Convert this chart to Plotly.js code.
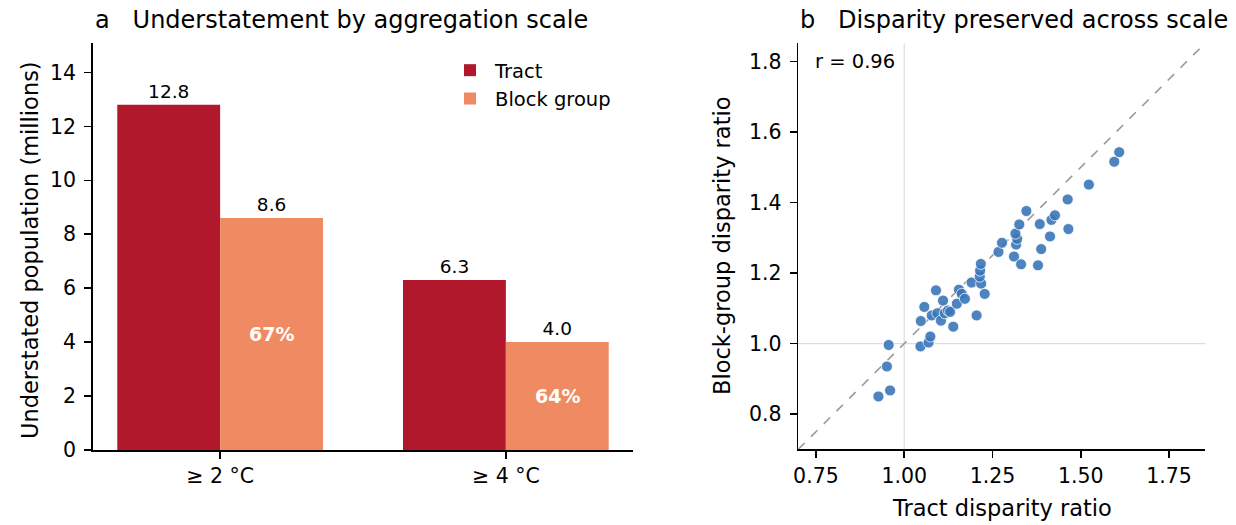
<!DOCTYPE html>
<html>
<head>
<meta charset="utf-8">
<script src="https://cdn.plot.ly/plotly-3.0.1.min.js"></script>
<style>html,body{margin:0;padding:0;background:#fff;}#chart{width:1236px;height:525px;}</style>
</head>
<body>
<div id="chart"></div>
<script>
// ---- Panel a data ----
const thresholds = ["\u2265 2 \u00b0C", "\u2265 4 \u00b0C"];
const tractPop = [12.8, 6.3];        // millions
const blockGroupPop = [8.6, 4.0];    // millions
const blockGroupShare = [67, 64];    // % of tract-level understatement

// ---- Panel b data ----
const tractRatio = [0.927, 0.960, 0.951, 0.956, 1.046, 1.069, 1.074, 1.047, 1.057, 1.090,
  1.078, 1.094, 1.104, 1.110, 1.115, 1.124, 1.130, 1.139, 1.149, 1.155,
  1.163, 1.172, 1.191, 1.205, 1.218, 1.228, 1.214, 1.215, 1.217, 1.267,
  1.277, 1.311, 1.317, 1.320, 1.315, 1.326, 1.331, 1.346, 1.379, 1.384,
  1.388, 1.413, 1.417, 1.427, 1.463, 1.465, 1.523, 1.595, 1.609];
const blockGroupRatio = [0.850, 0.867, 0.935, 0.996, 0.992, 1.003, 1.020, 1.064, 1.104, 1.151,
  1.080, 1.086, 1.065, 1.122, 1.086, 1.094, 1.090, 1.048, 1.113, 1.153,
  1.141, 1.127, 1.173, 1.080, 1.170, 1.141, 1.190, 1.207, 1.226, 1.260,
  1.286, 1.247, 1.281, 1.297, 1.312, 1.338, 1.225, 1.376, 1.222, 1.339,
  1.268, 1.304, 1.351, 1.364, 1.409, 1.325, 1.451, 1.516, 1.543];
const rValue = "0.96";

const FONT = "DejaVu Sans, Liberation Sans, sans-serif";
const W = 1236, H = 525;
const px = v => v / W;
const py = v => (H - v) / H;

const xIdx = thresholds.map((_, i) => i);
const barW = 0.36;

const traces = [
  {
    type: "bar", name: "Tract", x: xIdx, y: tractPop,
    marker: {color: "#b2182b", line: {width: 0}},
    text: tractPop.map(v => v.toFixed(1)), textposition: "outside",
    textfont: {family: FONT, size: 18.5, color: "#000"},
    cliponaxis: false, xaxis: "x", yaxis: "y", hoverinfo: "skip"
  },
  {
    type: "bar", name: "Block group", x: xIdx, y: blockGroupPop,
    marker: {color: "#ef8a62", line: {width: 0}},
    text: blockGroupPop.map(v => v.toFixed(1)), textposition: "outside",
    textfont: {family: FONT, size: 18.5, color: "#000"},
    cliponaxis: false, xaxis: "x", yaxis: "y", hoverinfo: "skip"
  },
  {
    type: "scatter", mode: "lines", x: [0.70, 1.852], y: [0.70, 1.852],
    line: {color: "#999999", width: 1.6, dash: "dash"},
    xaxis: "x2", yaxis: "y2", showlegend: false, hoverinfo: "skip"
  },
  {
    type: "scatter", mode: "markers", x: tractRatio, y: blockGroupRatio,
    marker: {color: "#3a76b8", size: 11, opacity: 0.9, line: {color: "#ffffff", width: 0.8}},
    xaxis: "x2", yaxis: "y2", showlegend: false
  }
];

const annotations = [
  {text: "a\u00a0\u00a0\u00a0Understatement by aggregation scale", xref: "paper", yref: "paper",
   x: px(92.7), y: py(20), xanchor: "left", yanchor: "middle", showarrow: false,
   font: {family: FONT, size: 24, color: "#000"}},
  {text: "b\u00a0\u00a0\u00a0Disparity preserved across scale", xref: "paper", yref: "paper",
   x: px(798.3), y: py(20), xanchor: "left", yanchor: "middle", showarrow: false,
   font: {family: FONT, size: 24, color: "#000"}},
  {text: "Understated population (millions)", xref: "paper", yref: "paper",
   x: px(30), y: py(250), xanchor: "center", yanchor: "middle", textangle: -90, showarrow: false,
   font: {family: FONT, size: 22.5, color: "#000"}},
  {text: "Block-group disparity ratio", xref: "paper", yref: "paper",
   x: px(722), y: py(246), xanchor: "center", yanchor: "middle", textangle: -90, showarrow: false,
   font: {family: FONT, size: 22.5, color: "#000"}},
  {text: "Tract disparity ratio", xref: "paper", yref: "paper",
   x: px(1001.5), y: py(508), xanchor: "center", yanchor: "middle", showarrow: false,
   font: {family: FONT, size: 22.5, color: "#000"}},
  {text: "r = " + rValue, xref: "paper", yref: "paper",
   x: px(813), y: py(61.7), xanchor: "left", yanchor: "middle", showarrow: false,
   font: {family: FONT, size: 19.5, color: "#000"}}
];
// percentage share labels inside block-group bars
blockGroupPop.forEach((v, i) => {
  annotations.push({
    text: "<b>" + blockGroupShare[i] + "%</b>",
    xref: "x", yref: "y", x: xIdx[i] + barW / 2, y: v / 2,
    xanchor: "center", yanchor: "middle", showarrow: false,
    font: {family: FONT, size: 19, color: "#ffffff"}
  });
});

const axisCommon = {
  showline: true, linecolor: "#000", linewidth: 1.6, mirror: false,
  ticks: "outside", ticklen: 7, tickwidth: 1.6, tickcolor: "#000",
  showgrid: false, zeroline: false, fixedrange: true,
  tickfont: {family: FONT, size: 20.5, color: "#000"}
};

const layout = {
  width: W, height: H,
  margin: {l: 0, r: 0, t: 0, b: 0},
  paper_bgcolor: "#fff", plot_bgcolor: "#fff",
  font: {family: FONT, color: "#000"},
  barmode: "group", bargap: 0.28, bargroupgap: 0,
  showlegend: true,
  legend: {x: px(445), y: py(51), xanchor: "left", yanchor: "top",
           font: {family: FONT, size: 19.5, color: "#000"}, bgcolor: "rgba(0,0,0,0)",
           tracegroupgap: 4, itemwidth: 40},
  xaxis: Object.assign({}, axisCommon, {
    domain: [px(92.7), px(633.3)], range: [-0.446, 1.446],
    tickmode: "array", tickvals: xIdx, ticktext: thresholds, anchor: "y"
  }),
  yaxis: Object.assign({}, axisCommon, {
    domain: [py(450), py(43.3)], range: [0, 15.08],
    tickmode: "array", tickvals: [0, 2, 4, 6, 8, 10, 12, 14], anchor: "x",
    ticklabelstandoff: 4
  }),
  xaxis2: Object.assign({}, axisCommon, {
    domain: [px(798.3), px(1205)], range: [0.70, 1.852],
    tickmode: "array", tickvals: [0.75, 1.0, 1.25, 1.5, 1.75], tickformat: ".2f", anchor: "y2"
  }),
  yaxis2: Object.assign({}, axisCommon, {
    domain: [py(449.3), py(43.3)], range: [0.70, 1.852],
    tickmode: "array", tickvals: [0.8, 1.0, 1.2, 1.4, 1.6, 1.8], tickformat: ".1f", anchor: "x2",
    ticklabelstandoff: 4
  }),
  shapes: [
    {type: "line", xref: "x2", yref: "y2 domain", x0: 1, x1: 1, y0: 0, y1: 1,
     line: {color: "#dddddd", width: 1.2}, layer: "below"},
    {type: "line", xref: "x2 domain", yref: "y2", x0: 0, x1: 1, y0: 1, y1: 1,
     line: {color: "#dddddd", width: 1.2}, layer: "below"}
  ],
  annotations: annotations
};

Plotly.newPlot("chart", traces, layout, {displayModeBar: false, staticPlot: true});
</script>
</body>
</html>
